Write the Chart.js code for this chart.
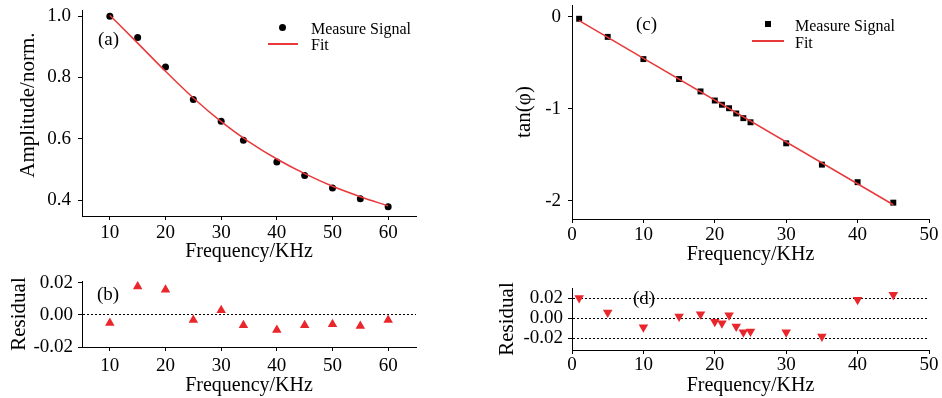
<!DOCTYPE html>
<html>
<head>
<meta charset="utf-8">
<script src="https://cdn.jsdelivr.net/npm/chart.js@4.4.1/dist/chart.umd.min.js"></script>
<style>
  body { margin: 0; background: #fff; }
  #wrap { position: relative; width: 942px; height: 398px; overflow: hidden; font-family: 'Liberation Serif', 'Times New Roman', serif; color: #000; }
  #wrap canvas { position: absolute; left: 0; top: 0; }
  .tag { position: absolute; font-size: 19px; line-height: 19px; white-space: nowrap; }
  .leg { position: absolute; font-size: 16px; line-height: 16px; white-space: nowrap; }
  .sym { position: absolute; }
</style>
</head>
<body>
<div id="wrap">
  <canvas id="chartA" width="942" height="398"></canvas>
  <canvas id="chartB" width="942" height="398"></canvas>
  <canvas id="chartC" width="942" height="398"></canvas>
  <canvas id="chartD" width="942" height="398"></canvas>

  <div class="tag" style="left:98px;top:29px;">(a)</div>
  <div class="tag" style="left:97px;top:284px;">(b)</div>
  <div class="tag" style="left:636px;top:14px;">(c)</div>
  <div class="tag" style="left:633px;top:288px;">(d)</div>

  <div class="sym" style="left:279px;top:24px;width:7px;height:7px;border-radius:50%;background:#000;"></div>
  <div class="leg" style="left:311px;top:21px;">Measure Signal</div>
  <div class="sym" style="left:268px;top:43px;width:30px;height:1.5px;background:#e8383a;"></div>
  <div class="leg" style="left:311px;top:37px;">Fit</div>

  <div class="sym" style="left:765px;top:21px;width:6px;height:6px;background:#000;"></div>
  <div class="leg" style="left:795px;top:18px;">Measure Signal</div>
  <div class="sym" style="left:752px;top:40px;width:32px;height:1.5px;background:#e8383a;"></div>
  <div class="leg" style="left:795px;top:35px;">Fit</div>
</div>

<script>
// (a) amplitude vs frequency
const freqA = [10, 15, 20, 25, 30, 34, 40, 45, 50, 55, 60];
const ampA = [1.000, 0.930, 0.834, 0.728, 0.657, 0.595, 0.524, 0.480, 0.439, 0.404, 0.378];
const fitFreqA = [10, 15, 20, 25, 30, 35, 40, 45, 50, 55, 60];
const fitAmpA = [1.003, 0.912, 0.820, 0.733, 0.656, 0.590, 0.534, 0.486, 0.445, 0.411, 0.381];
// (b) residual of (a)
const residA = [-0.0050, 0.0177, 0.0158, -0.0031, 0.0029, -0.0065, -0.0094, -0.0065, -0.0058, -0.0069, -0.0031];

// (c) tan(phi) vs frequency
const freqC = [1, 5, 10, 15, 18, 20, 21, 22, 23, 24, 25, 30, 35, 40, 45];
const tanC = [-0.020, -0.217, -0.459, -0.676, -0.811, -0.910, -0.956, -0.994, -1.051, -1.102, -1.147, -1.376, -1.608, -1.799, -2.022];
const fitFreqC = [1, 45];
const fitTanC = [-0.040, -2.045];
// (d) residual of (c)
const residC = [0.0200, 0.0057, -0.0090, 0.0017, 0.0040, -0.0037, -0.0050, 0.0030, -0.0083, -0.0140, -0.0133, -0.0140, -0.0183, 0.0183, 0.0233];

// tick labels
const xTicksA = [10, 20, 30, 40, 50, 60];
const yTicksA = [0.4, 0.6, 0.8, 1.0];
const yTicksB = [-0.02, 0, 0.02];
const xTicksC = [0, 10, 20, 30, 40, 50];
const yTicksC = [-2, -1, 0];
const yTicksD = [-0.02, 0, 0.02];
const dottedB = [0];
const dottedD = [-0.02, 0, 0.02];

const RED = '#e8383a';
const TRI = '#e8262b';
const FONT = 'Liberation Serif';

const pts = (xs, ys) => xs.map((x, i) => ({ x: x, y: ys[i] }));

// one panel = one full-size canvas, chart area placed by padding + fixed axis sizes
function panel(id, p, datasets) {
  return new Chart(document.getElementById(id), {
    type: 'scatter',
    data: { datasets: datasets },
    options: {
      responsive: false,
      animation: false,
      events: [],
      layout: { padding: { left: p.padL, top: p.top, right: 942 - p.right, bottom: 398 - p.bottom - p.xH } },
      plugins: { legend: { display: false }, tooltip: { enabled: false } },
      scales: {
        x: {
          type: 'linear', min: p.xMin, max: p.xMax,
          afterBuildTicks: s => { s.ticks = p.xTicks.map(v => ({ value: v })); },
          afterFit: s => { s.height = p.xH; s.paddingLeft = 0; s.paddingRight = 0; },
          grid: { display: true, drawOnChartArea: false, drawTicks: true, tickLength: 4, tickColor: '#000', tickWidth: 1 },
          border: { display: true, color: '#000', width: 1 },
          ticks: { color: '#000', font: { family: FONT, size: 19 }, padding: p.xPad, maxRotation: 0, autoSkip: false },
          title: { display: true, text: 'Frequency/KHz', color: '#000', font: { family: FONT, size: 20 }, padding: { top: 0, bottom: 0 } }
        },
        y: {
          type: 'linear', min: p.yMin, max: p.yMax,
          afterBuildTicks: s => { s.ticks = p.yTicks.map(v => ({ value: v })); },
          afterFit: s => { s.width = p.left - p.padL; s.paddingTop = 0; s.paddingBottom = 0; },
          grid: {
            display: true,
            drawOnChartArea: !!p.dotted,
            color: c => (p.dotted && c.tick && p.dotted.includes(c.tick.value)) ? '#000' : 'transparent',
            lineWidth: 1,
            drawTicks: true, tickLength: 4, tickColor: '#000', tickWidth: 1
          },
          border: { display: true, color: '#000', width: 1, dash: [2, 2] },
          ticks: { color: '#000', font: { family: FONT, size: 19 }, padding: p.yPad, callback: p.yFmt },
          title: { display: true, text: p.yTitle, color: '#000', font: { family: FONT, size: 21 }, padding: { top: p.yTitlePad, bottom: 0 } }
        }
      }
    }
  });
}

panel('chartA', {
  padL: 0, left: 82, top: 10, right: 416, bottom: 216, xH: 48,
  xMin: 5, xMax: 65, xTicks: xTicksA, xPad: 2,
  yMin: 0.348, yMax: 1.02, yTicks: yTicksA, yPad: 7, yFmt: v => v.toFixed(1),
  yTitle: '\u00a0\u00a0\u00a0Amplitude/norm.', yTitlePad: 16
}, [
  { data: pts(fitFreqA, fitAmpA), showLine: true, borderColor: RED, borderWidth: 1.5, pointRadius: 0, cubicInterpolationMode: 'monotone', clip: false },
  { data: pts(freqA, ampA), pointStyle: 'circle', pointRadius: 3.5, backgroundColor: '#000', borderWidth: 0, clip: false }
]);

panel('chartB', {
  padL: 0, left: 82, top: 281, right: 416, bottom: 347, xH: 51,
  xMin: 5, xMax: 65, xTicks: xTicksA, xPad: 4,
  yMin: -0.02, yMax: 0.0212, yTicks: yTicksB, yPad: 5, yFmt: v => v.toFixed(2),
  yTitle: 'Residual', yTitlePad: 7, dotted: dottedB
}, [
  { data: pts(freqA, residA), pointStyle: 'triangle', pointRadius: 5.5, backgroundColor: TRI, borderWidth: 0, clip: false }
]);

panel('chartC', {
  padL: 470, left: 572, top: 5, right: 929, bottom: 219, xH: 48,
  xMin: 0, xMax: 50, xTicks: xTicksC, xPad: 1,
  yMin: -2.2, yMax: 0.13, yTicks: yTicksC, yPad: 7, yFmt: v => String(v),
  yTitle: 'tan(\u03c6)', yTitlePad: 42
}, [
  { data: pts(fitFreqC, fitTanC), showLine: true, borderColor: RED, borderWidth: 1.5, pointRadius: 0, clip: false },
  { data: pts(freqC, tanC), pointStyle: 'rect', pointRadius: 4.2, backgroundColor: '#000', borderWidth: 0, clip: false }
]);

panel('chartD', {
  padL: 470, left: 572, top: 288, right: 929, bottom: 350, xH: 48,
  xMin: 0, xMax: 50, xTicks: xTicksC, xPad: 0,
  yMin: -0.0317, yMax: 0.03, yTicks: yTicksD, yPad: 5, yFmt: v => v.toFixed(2),
  yTitle: 'Residual', yTitlePad: 25, dotted: dottedD
}, [
  { data: pts(freqC, residC), pointStyle: 'triangle', rotation: 180, pointRadius: 5.5, backgroundColor: TRI, borderWidth: 0, clip: false }
]);
</script>
</body>
</html>
